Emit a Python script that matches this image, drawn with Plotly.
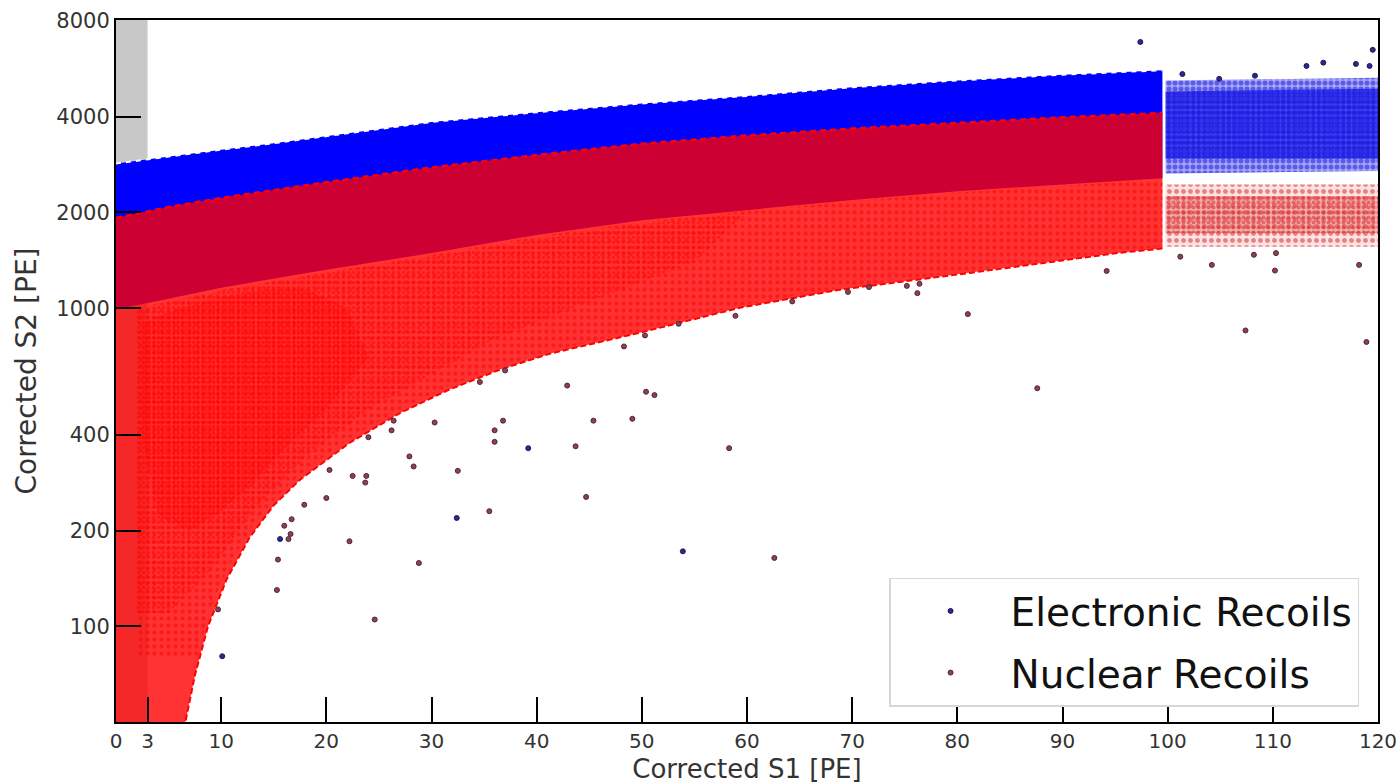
import plotly.graph_objects as go

# ---- band boundaries (Corrected S1 grid, Corrected S2 in PE) ----
s1_grid = [0, 5, 10, 15, 20, 30, 40, 50, 60, 70, 80, 90, 99.5]
er_upper = [2850, 3000, 3150, 3300, 3480, 3850, 4130, 4400, 4650, 4950, 5200, 5420, 5600]
er_lower = [990, 1070, 1160, 1240, 1320, 1490, 1700, 1890, 2040, 2190, 2330, 2450, 2560]
nr_upper = [1920, 2080, 2220, 2350, 2490, 2770, 3030, 3290, 3490, 3670, 3830, 3980, 4110]

# lower edge of the nuclear-recoil band
nr_low_s1 = [99.5, 95.4, 81.2, 68.8, 59.3, 49.8, 41.3, 36.5, 31.7, 27, 22.2, 17.5, 15, 12.7, 10.5, 8.75, 7.5, 6.6, 5.8, 0]
nr_low_s2 = [1540, 1493, 1291, 1143, 1003, 837, 720, 641, 555, 468, 377, 289, 240, 190, 140, 100, 70, 50, 35, 35]

# event-density regions inside the NR band (sparse / medium / dense)
all_s1 = [2, 5, 10, 15, 20, 30, 40, 50, 60, 70, 80, 90, 99.5, 99.5, 95.4, 81.2, 68.8, 59.3, 49.8,
          41.3, 36.5, 31.7, 27, 22.2, 17.5, 15, 12.7, 10.5, 8.75, 7.8, 2]
all_s2 = [1000, 1050, 1140, 1220, 1300, 1470, 1680, 1870, 2020, 2170, 2310, 2430, 2540, 1560, 1510, 1310,
          1160, 1020, 850, 735, 655, 570, 480, 390, 300, 250, 200, 150, 110, 80, 80]
med_s1 = [2, 5, 10, 15, 20, 30, 40, 50, 60, 55, 45, 36, 30, 24, 18, 13, 9, 5, 2]
med_s2 = [980, 1040, 1130, 1210, 1290, 1450, 1640, 1840, 1990, 1400, 1050, 800, 620, 480, 340, 230, 150, 110, 110]
dense_s1 = [2.5, 6, 10, 14, 18, 22, 24, 20, 16, 13, 10, 7, 4, 2.5]
dense_s2 = [900, 1000, 1080, 1140, 1150, 1000, 700, 480, 360, 280, 230, 200, 220, 400]

# event clouds above S1 = 100
er_cloud_s1 = [99.8, 120, 120, 99.8]
er_cloud_s2 = [2650, 2700, 5300, 5200]
er_core_s2 = [2950, 2950, 4900, 4800]
nr_cloud_s1 = [99.8, 120, 120, 99.8]
nr_cloud_s2 = [1560, 1560, 2450, 2450]
nr_core_s2 = [1720, 1720, 2250, 2250]

# individual events outside the bands
nr_evt_s1 = [37.0, 34.6, 26.4, 26.2, 30.3, 36.8, 36.0, 36.0, 24.0, 27.9, 28.3, 32.5, 20.3, 22.5, 23.8, 23.7,
             20.0, 17.9, 16.7, 16.0, 16.6, 16.4, 35.5, 22.2, 15.4, 28.8, 15.3, 24.6,
             64.3, 58.9, 53.5, 50.3, 48.3, 42.9, 50.4, 51.2, 45.4, 49.1, 43.7, 58.3, 44.7, 62.6,
             69.6, 71.6, 75.2, 76.4, 76.2, 81.0, 87.6, 94.2,
             101.2, 104.2, 110.2, 118.2, 108.2, 110.3, 107.4, 118.9, 9.7]
nr_evt_s2 = [637, 586, 443, 413, 437, 443, 413, 380, 393, 342, 318, 308, 310, 297, 297, 283,
             253, 241, 217, 207, 195, 188, 230, 185, 162, 158, 130, 105,
             1050, 946, 893, 821, 758, 571, 546, 533, 443, 449, 368, 363, 255, 164,
             1125, 1165, 1175, 1193, 1115, 958, 560, 1309,
             1452, 1368, 1313, 1368, 1472, 1490, 851, 783, 113]
er_evt_s1 = [39.2, 15.6, 32.4, 53.9, 10.1, 97.4, 101.4, 104.9, 108.3, 113.2, 114.8, 117.9, 119.2, 119.5]
er_evt_s2 = [363, 188, 219, 172, 80.5, 6870, 5445, 5260, 5380, 5775, 5915, 5860, 5775, 6490]

x_ticks = [0, 3, 10, 20, 30, 40, 50, 60, 70, 80, 90, 100, 110, 120]
y_ticks = [100, 200, 400, 1000, 2000, 4000, 8000]

fig = go.Figure()

# electron-recoil band
fig.add_trace(go.Scatter(
    x=s1_grid + s1_grid[::-1], y=er_upper + er_lower[::-1],
    fill="toself", fillcolor="rgb(0,0,255)", line=dict(width=0),
    mode="lines", hoverinfo="skip", showlegend=False))

# nuclear-recoil band, semi-transparent on top
fig.add_trace(go.Scatter(
    x=s1_grid + nr_low_s1, y=nr_upper + nr_low_s2,
    fill="toself", fillcolor="rgba(255,0,0,0.8)", line=dict(width=0),
    mode="lines", hoverinfo="skip", showlegend=False))


def dotted_region(xs, ys, color, size, solidity, bg="rgba(0,0,0,0)"):
    return go.Scatter(
        x=xs, y=ys, fill="toself", mode="lines", line=dict(width=0),
        fillcolor="rgba(0,0,0,0)",
        fillpattern=dict(shape=".", fgcolor=color, bgcolor=bg,
                         size=size, solidity=solidity),
        hoverinfo="skip", showlegend=False)


fig.add_trace(dotted_region(all_s1, all_s2, "rgb(255,0,0)", 7, 0.3))
fig.add_trace(dotted_region(med_s1, med_s2, "rgb(255,0,0)", 5, 0.4))
fig.add_trace(dotted_region(dense_s1, dense_s2, "rgb(255,0,0)", 4, 0.6))

fig.add_trace(dotted_region(er_cloud_s1, er_cloud_s2, "rgb(15,15,225)", 6, 0.55,
                            "rgba(35,35,230,0.4)"))
fig.add_trace(dotted_region(er_cloud_s1, er_core_s2, "rgb(15,15,225)", 5, 0.7,
                            "rgba(20,20,230,0.65)"))
fig.add_trace(dotted_region(nr_cloud_s1, nr_cloud_s2, "rgb(210,35,35)", 7, 0.4,
                            "rgba(230,60,60,0.15)"))
fig.add_trace(dotted_region(nr_cloud_s1, nr_core_s2, "rgb(210,35,35)", 5, 0.5,
                            "rgba(230,50,50,0.3)"))

# dashed band edges
fig.add_trace(go.Scatter(x=s1_grid, y=er_upper, mode="lines",
                         line=dict(color="white", width=2, dash="5px,5px"),
                         hoverinfo="skip", showlegend=False))
fig.add_trace(go.Scatter(x=s1_grid, y=nr_upper, mode="lines",
                         line=dict(color="rgb(255,0,0)", width=2.5, dash="6px,4px"),
                         hoverinfo="skip", showlegend=False))
fig.add_trace(go.Scatter(x=nr_low_s1[:-1], y=nr_low_s2[:-1], mode="lines",
                         line=dict(color="rgb(255,0,0)", width=2, dash="6px,3px"),
                         hoverinfo="skip", showlegend=False))

# individual events
fig.add_trace(go.Scatter(
    x=er_evt_s1, y=er_evt_s2, mode="markers", name="Electronic Recoils", legendgroup="er",
    marker=dict(size=5, color="rgb(40,40,150)", line=dict(color="rgb(35,30,70)", width=1))))
fig.add_trace(go.Scatter(
    x=nr_evt_s1, y=nr_evt_s2, mode="markers", name="Nuclear Recoils", legendgroup="nr",
    marker=dict(size=5, color="rgb(150,60,80)", line=dict(color="rgb(70,45,55)", width=1))))

fig.update_layout(
    width=1400, height=784,
    margin=dict(l=116, r=22, t=20, b=62, autoexpand=False),
    paper_bgcolor="white", plot_bgcolor="white",
    font=dict(family="DejaVu Sans", color="#222"),
    shapes=[dict(type="rect", xref="x", yref="paper", x0=0, x1=3, y0=0, y1=1,
                 fillcolor="rgb(200,200,200)", line=dict(width=0), layer="below")],
    legend=dict(x=0.985, y=0.022, xanchor="right", yanchor="bottom",
                bgcolor="white", bordercolor="rgb(215,215,215)", borderwidth=1.5,
                font=dict(size=39, color="#111"), itemwidth=110,
                traceorder="grouped", tracegroupgap=8),
    xaxis=dict(range=[0, 120], tickvals=x_ticks, ticktext=[str(v) for v in x_ticks],
               ticks="inside", ticklen=25, tickwidth=2, tickcolor="black",
               showline=True, linecolor="black", linewidth=2, mirror=True,
               showgrid=False, zeroline=False, automargin=False,
               tickfont=dict(size=20, color="#333"),
               title=dict(text="Corrected S1 [PE]", font=dict(size=26, color="#333"), standoff=14)),
    yaxis=dict(type="log", range=[1.699, 3.906], tickvals=y_ticks, ticktext=[str(v) for v in y_ticks],
               ticks="inside", ticklen=25, tickwidth=2, tickcolor="black",
               showline=True, linecolor="black", linewidth=2, mirror=True,
               showgrid=False, zeroline=False, automargin=False,
               tickfont=dict(size=21, color="#333"),
               title=dict(text="Corrected S2 [PE]", font=dict(size=28, color="#333"), standoff=12)),
)

fig.write_html("out.html")
